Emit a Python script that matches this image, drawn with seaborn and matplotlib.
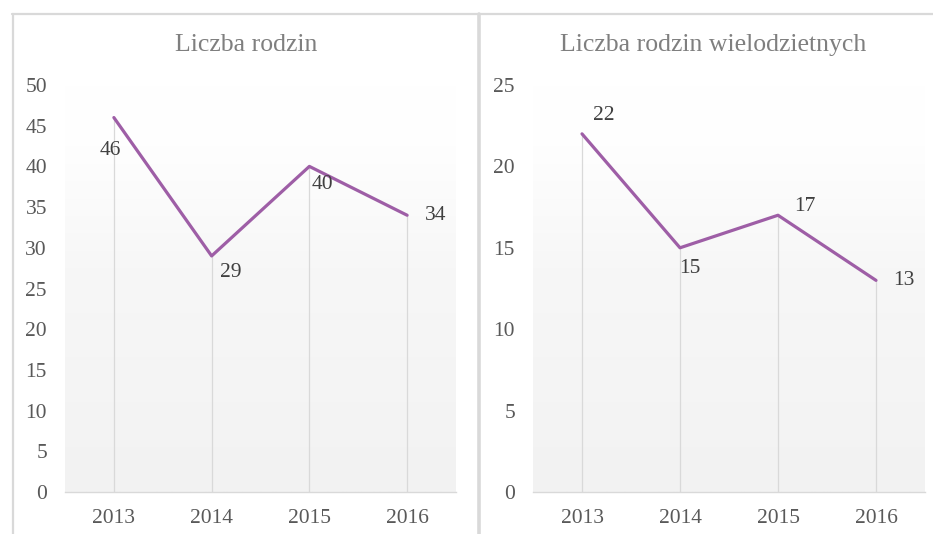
import numpy as np
import pandas as pd
import matplotlib
matplotlib.use("Agg")
import matplotlib.pyplot as plt
from matplotlib.lines import Line2D
import seaborn as sns

years = ["2013", "2014", "2015", "2016"]
rodziny = [46, 29, 40, 34]
wielodzietne = [22, 15, 17, 13]
titles = ["Liczba rodzin", "Liczba rodzin wielodzietnych"]
y_max = [50, 25]
y_step = [5, 5]
# label offsets in pixels (dx, dy)
offs_left = [(-4, -33), (19, -17), (13, -18), (28, 0)]
offs_right = [(22, 18), (10, -21), (27, 9), (28, 0)]

sns.set_theme(style="white")
plt.rcParams["font.family"] = ["Liberation Serif", "DejaVu Serif"]

W, H = 933, 534
fig = plt.figure(figsize=(W / 100, H / 100), dpi=100)
fig.patch.set_facecolor("white")

line_col = "#9E5EA6"
grid_col = "#D9D9D9"
tick_col = "#595959"

def px(x, y):
    return x / W, 1 - y / H

# panel borders
border = "#D9D9D9"
fig.add_artist(Line2D([px(12, 0)[0], 1], [px(0, 14)[1]] * 2, color=border, lw=1.6,
                      transform=fig.transFigure))
fig.add_artist(Line2D([px(13, 0)[0]] * 2, [px(0, 14)[1], 0], color=border, lw=1.6,
                      transform=fig.transFigure))
fig.add_artist(Line2D([px(478.5, 0)[0]] * 2, [px(0, 14)[1], 0], color=border, lw=2.6,
                      transform=fig.transFigure))

grad = np.linspace(0, 1, 256).reshape(-1, 1)
cmap = matplotlib.colors.LinearSegmentedColormap.from_list(
    "g", [(0, "#F2F2F2"), (0.55, "#F7F7F7"), (0.85, "#FEFEFE"), (1, "#FFFFFF")])

panels = [
    dict(vals=rodziny, left=65, right=456, title_x=246, offs=offs_left),
    dict(vals=wielodzietne, left=533, right=925, title_x=713, offs=offs_right),
]
top_px, bot_px = 85, 492

for i, p in enumerate(panels):
    l, b = px(p["left"], bot_px)
    r, t = px(p["right"], top_px)
    ax = fig.add_axes([l, b, r - l, t - b])
    ax.imshow(grad, extent=[0, 1, 0, 1], transform=ax.transAxes, cmap=cmap,
              aspect="auto", zorder=0, origin="lower", interpolation="bilinear")
    df = pd.DataFrame({"year": years, "value": p["vals"]})
    xpos = np.arange(len(years))
    ax.vlines(xpos, 0, df["value"], color=grid_col, lw=0.9, zorder=1)
    sns.lineplot(data=df, x="year", y="value", ax=ax, color=line_col, lw=2.3,
                 sort=False, zorder=3)
    ax.set_xlim(-0.5, len(years) - 0.5)
    ax.set_ylim(0, y_max[i])
    ax.set_yticks(np.arange(0, y_max[i] + 1, y_step[i]))
    ax.set_xticks(xpos)
    ax.set_xticklabels(years)
    ax.set_xlabel("")
    ax.set_ylabel("")
    for s in ["top", "right", "left"]:
        ax.spines[s].set_visible(False)
    ax.spines["bottom"].set_color(grid_col)
    ax.spines["bottom"].set_linewidth(1.0)
    ax.tick_params(axis="both", length=0, labelsize=15.5, labelcolor=tick_col)
    ax.tick_params(axis="y", pad=13)
    ax.tick_params(axis="x", pad=12)
    ax.set_facecolor("white")
    ax.patch.set_alpha(0)
    for xi, v, (dx, dy) in zip(xpos, p["vals"], p["offs"]):
        ax.annotate(str(v), (xi, v), xytext=(dx, dy), textcoords="offset pixels",
                    ha="center", va="center", fontsize=15.5, color="#404040", zorder=4)
    fig.text(p["title_x"] / W, 1 - 45 / H, titles[i], ha="center", va="center",
             fontsize=18.5, color="#7F7F7F")

fig.savefig("out.png", dpi=100)
